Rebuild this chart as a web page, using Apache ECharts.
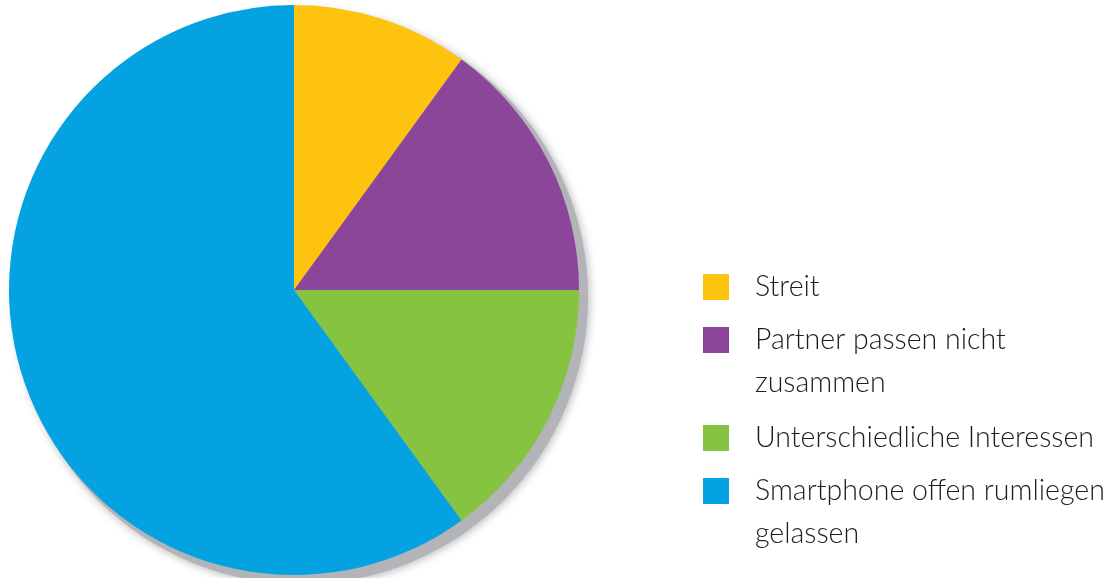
<!DOCTYPE html>
<html><head><meta charset="utf-8">
<script src="https://cdn.jsdelivr.net/npm/echarts@6/dist/echarts.min.js"></script>
<style>html,body{margin:0;padding:0;background:#fff}#c{width:1119px;height:578px}</style>
</head><body><div id="c"></div>
<script>
const categories = ['Streit', 'Partner passen nicht zusammen', 'Unterschiedliche Interessen', 'Smartphone offen rumliegen gelassen'];
const values = [10, 15, 15, 60];
const colors = ['#FEC30F', '#8C4699', '#86C341', '#04A2E1'];
const legendLabels = ['Streit', 'Partner passen nicht\nzusammen', 'Unterschiedliche Interessen', 'Smartphone offen rumliegen\ngelassen'];

const FONT = "Lato, Roboto, sans-serif";
const LH = 43;
const iconCenters = [287, 340, 438, 491];
const chart = echarts.init(document.getElementById('c'), null, {renderer: 'canvas'});

const legends = categories.map((name, i) => {
  const twoLines = legendLabels[i].indexOf('\n') >= 0;
  const boxH = twoLines ? LH * 3 : LH;
  return {
    orient: 'vertical',
    left: 703,
    top: iconCenters[i] - boxH / 2,
    padding: 0,
    itemWidth: 26,
    itemHeight: 26,
    icon: 'rect',
    selectedMode: false,
    formatter: () => (twoLines ? '\n' : '') + legendLabels[i],
    data: [name],
    textStyle: {
      fontFamily: FONT,
      fontWeight: 300,
      fontSize: 28.5,
      lineHeight: LH,
      padding: [0, 0, 0, 21],
      color: '#1f1d1d'
    }
  };
});

chart.setOption({
  animation: false,
  backgroundColor: '#fff',
  legend: legends,
  series: [
    {
      type: 'pie',
      silent: true,
      center: [301, 297],
      radius: 287,
      z: 1,
      label: {show: false},
      labelLine: {show: false},
      emphasis: {disabled: true},
      data: [{value: 1, name: '__shadow', itemStyle: {color: '#b2b4b8', shadowBlur: 10, shadowColor: '#b2b4b8', shadowOffsetX: 1, shadowOffsetY: 1}}]
    },
    {
      type: 'pie',
      center: [294, 290],
      radius: 285,
      startAngle: 90,
      clockwise: true,
      z: 2,
      label: {show: false},
      labelLine: {show: false},
      emphasis: {scale: false},
      itemStyle: {borderWidth: 0},
      data: categories.map((n, i) => ({name: n, value: values[i], itemStyle: {color: colors[i]}}))
    }
  ]
});
</script></body></html>
